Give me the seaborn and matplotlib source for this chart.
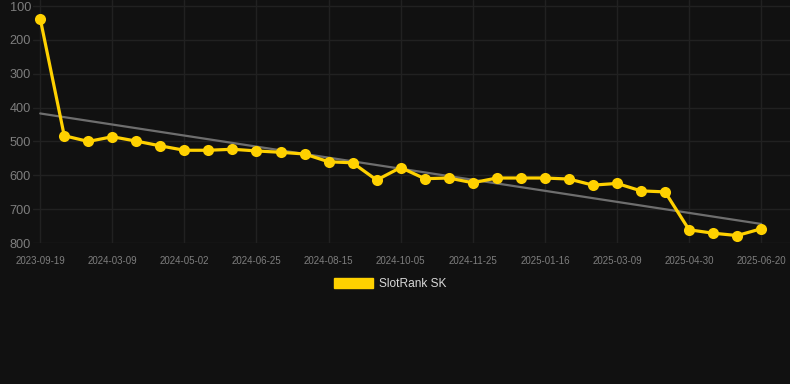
import numpy as np
import matplotlib
matplotlib.use("Agg")
import matplotlib.pyplot as plt
from matplotlib.patches import Patch
import seaborn as sns

# ---------- DATA ----------
ranks = [137, 483, 500, 486, 499, 513, 526, 526, 523, 528, 532, 537, 560, 563,
         614, 577, 610, 608, 622, 608, 608, 608, 611, 629, 624, 646, 649,
         761, 771, 778, 758]
tick_labels = ["2023-09-19", "2024-03-09", "2024-05-02", "2024-06-25",
               "2024-08-15", "2024-10-05", "2024-11-25", "2025-01-16",
               "2025-03-09", "2025-04-30", "2025-06-20"]
y_ticks = [100, 200, 300, 400, 500, 600, 700, 800]
series_name = "SlotRank SK"

BG = "#111111"
GRID = "#212121"
TXT = "#7e7e7e"
GOLD = "#FFD100"

idx = np.arange(len(ranks))

sns.set_style("dark")
plt.rcParams["font.family"] = ["Liberation Sans", "DejaVu Sans"]

fig = plt.figure(figsize=(7.9, 3.84), dpi=100, facecolor=BG)
ax = fig.add_axes([33 / 790, 1 - 243 / 384, 1 - 33 / 790, 243 / 384])
ax.set_facecolor(BG)

# trend line (linear fit)
sns.regplot(x=idx, y=ranks, ax=ax, scatter=False, ci=None,
            line_kws={"color": "#6e6e6e", "lw": 1.6, "zorder": 2})

sns.lineplot(x=idx, y=ranks, ax=ax, color=GOLD, lw=2.3, marker="o",
             markersize=8, markeredgewidth=0, zorder=3)

ax.set_xlim(-0.3, 31.2)
ax.set_ylim(800, 82)
ax.set_yticks(y_ticks)
ax.set_xticks(idx[::3])
ax.set_xticklabels(tick_labels)
ax.tick_params(axis="y", colors=TXT, labelsize=9.2, length=0, pad=1.5)
ax.tick_params(axis="x", colors=GRID, labelcolor=TXT, labelsize=7,
               length=7, width=1, pad=2)
ax.grid(True, color=GRID, lw=1)
for s in ax.spines.values():
    s.set_visible(False)
ax.set_xlabel("")
ax.set_ylabel("")

fig.legend(handles=[Patch(color=GOLD, label=series_name)], loc="center",
           bbox_to_anchor=(390 / 790, 1 - 284 / 384), frameon=False,
           handlelength=3.3, handleheight=1.0, handletextpad=0.5,
           fontsize=8.6, labelcolor="#d8d8d8")

fig.savefig("out.png", dpi=100, facecolor=BG)
